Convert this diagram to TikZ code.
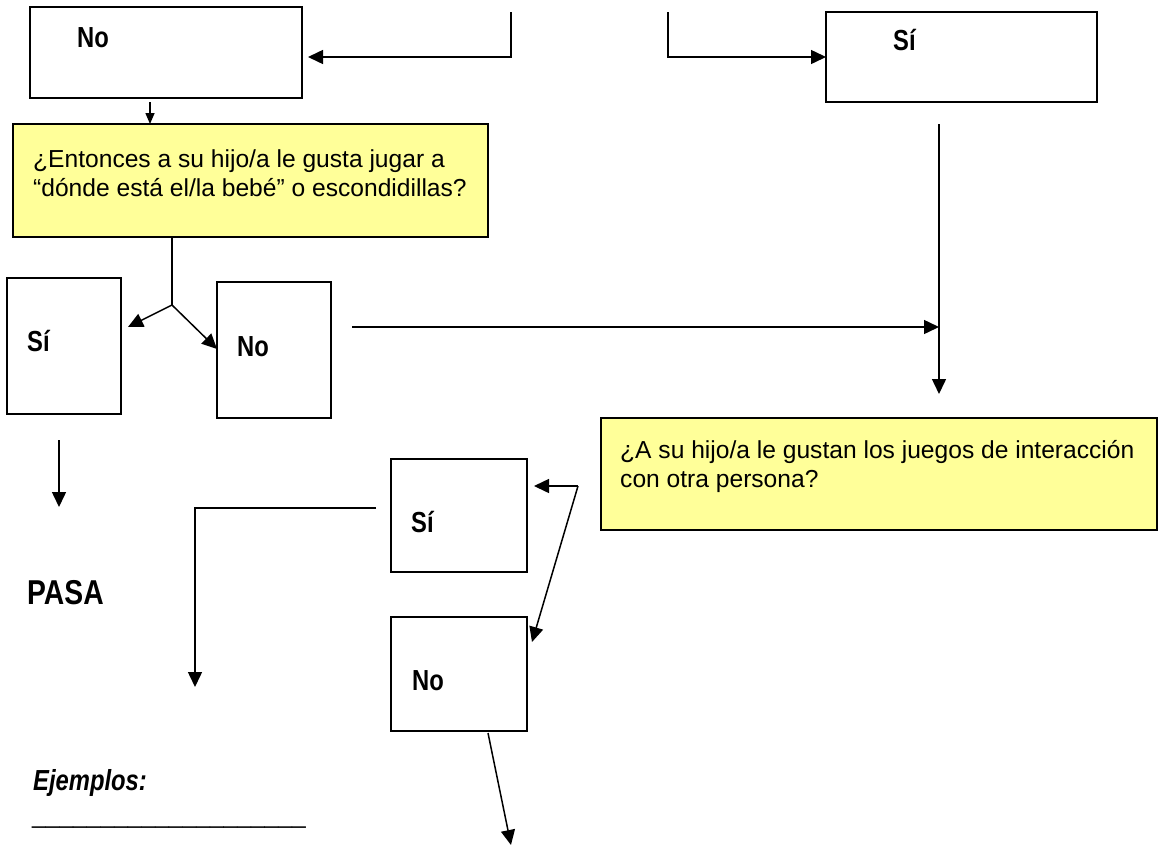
\documentclass[tikz,border=0pt]{standalone}
\usepackage{fontspec}
\setmainfont{Liberation Sans}
\newfontfamily\narrowfont[FakeStretch=0.82]{Liberation Sans}
\usetikzlibrary{arrows.meta,calc}
\definecolor{qyellow}{HTML}{FFFF99}
\begin{document}
\begin{tikzpicture}[x=1pt,y=-1pt,
  box/.style={draw=black, line width=1.6pt, inner sep=0pt, outer sep=0pt},
  qbox/.style={box, fill=qyellow},
  lbl/.style={font=\narrowfont\bfseries\fontsize{29}{34}\selectfont, anchor=base west, inner sep=0pt},
  qtext/.style={font=\fontsize{24.6}{28.3}\selectfont, align=left, anchor=base west, inner sep=0pt},
  conn/.style={line width=1.5pt},
  arr/.style={conn, -{Triangle[length=15pt,width=14pt]}},
  arrs/.style={conn, -{Triangle[length=11pt,width=9pt]}}]
\useasboundingbox (0,0) rectangle (1159,846);

% boxes
\node[box, minimum width=272pt, minimum height=91pt] (no1) at (166,52.5) {};
\node[box, minimum width=271pt, minimum height=90pt] (si1) at (961.5,57) {};
\node[qbox, minimum width=475pt, minimum height=113pt] (y1) at (250.5,180.5) {};
\node[box, minimum width=114pt, minimum height=136pt] (si2) at (64,346) {};
\node[box, minimum width=114pt, minimum height=136pt] (no2) at (274,350) {};
\node[qbox, minimum width=556pt, minimum height=112pt] (y2) at (879,474) {};
\node[box, minimum width=136pt, minimum height=113pt] (si3) at (459,515.5) {};
\node[box, minimum width=136pt, minimum height=114pt] (no3) at (459,674) {};

% texts (base anchor = baseline of the last line)
\node[lbl] (tno1) at (77,47) {No};
\node[lbl] (tsi1) at (893,50) {Sí};
\node[lbl] (tsi2) at (27,351) {Sí};
\node[lbl] (tno2) at (237,356) {No};
\node[lbl] (tsi3) at (411,532) {Sí};
\node[lbl] (tno3) at (412,690) {No};
\node[lbl, font=\narrowfont\bfseries\fontsize{34.5}{40}\selectfont] (pasa) at (27,604) {PASA};
\node[lbl, font=\narrowfont\bfseries\itshape\fontsize{29}{34}\selectfont] (ej) at (33,790) {Ejemplos:};
\node[qtext] (q1) at (33,196) {¿Entonces a su hijo/a le gusta jugar a\\“dónde está el/la bebé” o escondidillas?};
\node[qtext] (q2) at (620,487) {¿A su hijo/a le gustan los juegos de interacción\\con otra persona?};
\node[qtext] (ul) at (32,823) {\_\_\_\_\_\_\_\_\_\_\_\_\_\_\_\_\_\_\_\_};

% connectors
\coordinate (t1) at (511,12);
\draw[arr] (t1) |- ($(no1.east)+(6,4.5)$);
\coordinate (t2) at (668,12);
\draw[arr] (t2) |- (si1.west);
\draw[arrs] ($(no1.south)+(-16,4)$) -- ($(y1.north)+(-100.5,0)$);
\coordinate (br) at (172,305);
\draw[conn] ($(y1.south)+(-78.5,0)$) -- (br);
\draw[arr] (br) -- ($(si2.east)+(7,-19)$);
\draw[arr] (br) -- ($(no2.west)+(0,-1)$);
\draw[arr] ($(si2.south)+(-5,26)$) -- ($(si2.south)+(-5,93)$);
\coordinate (h1) at (352,327);
\coordinate (v1) at (939,124);
\draw[arr] (h1) -- (h1 -| v1);
\draw[arr] (v1) -- ($(y2.north)+(60,-24)$);
\coordinate (l1) at (376,508);
\coordinate (l2) at (195,687);
\draw[arr] (l1) -| (l2);
\coordinate (c1) at (578,486);
\draw[arr] (c1) -- ($(si3.east)+(7,-29.5)$);
\draw[arr] (c1) -- ($(no3.north east)+(5,25)$);
\draw[arr] ($(no3.south)+(29,2)$) -- ($(no3.south)+(52,114)$);
\end{tikzpicture}
\end{document}
